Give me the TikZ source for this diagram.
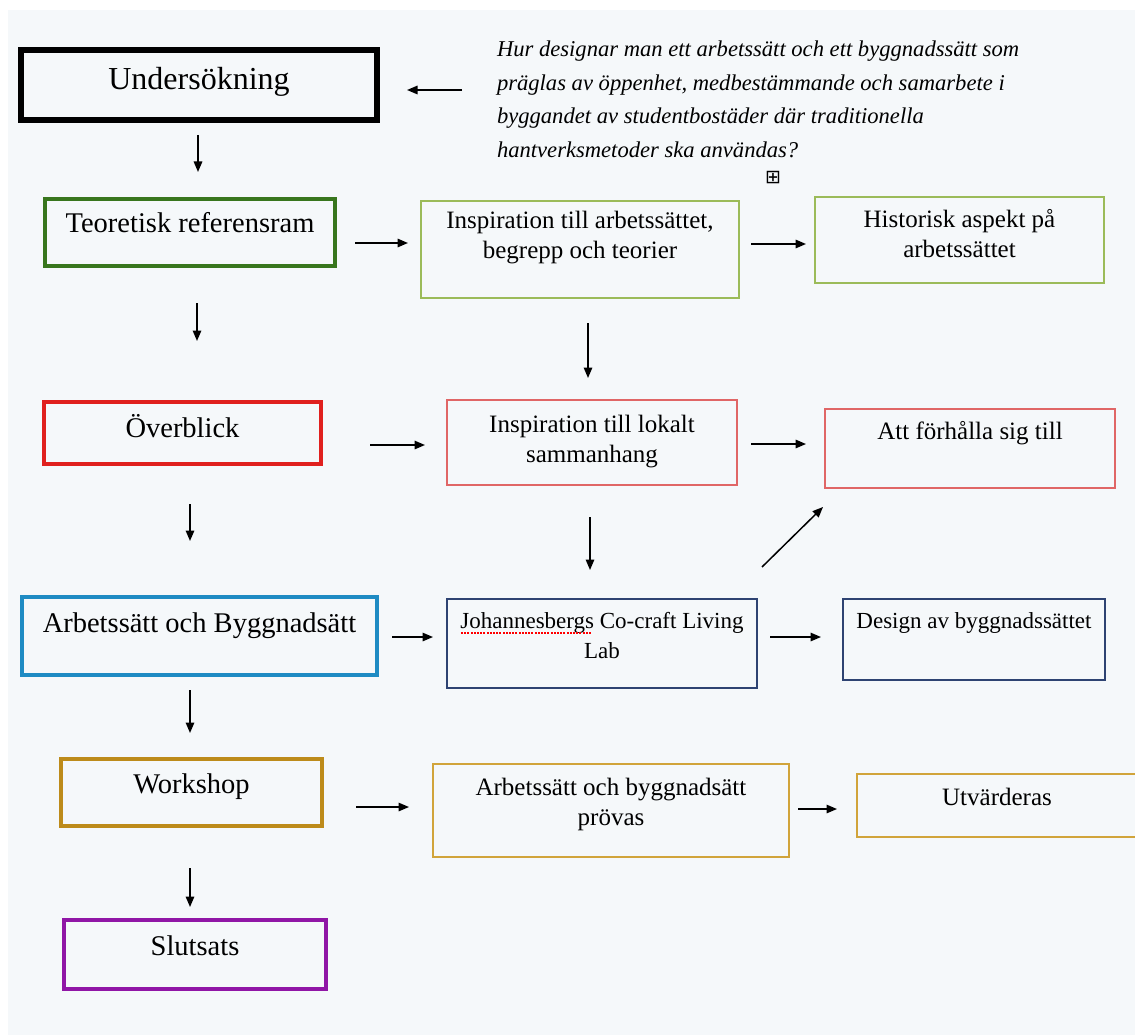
\documentclass[tikz,border=0pt]{standalone}
\usepackage{fontspec}
\setmainfont{Liberation Serif}
\newfontfamily\dejavu{DejaVu Sans}
\usetikzlibrary{calc,arrows.meta}
\definecolor{bgc}{HTML}{F5F8FA}
\definecolor{cgreen}{HTML}{38761D}
\definecolor{cred}{HTML}{E0201E}
\definecolor{cblue}{HTML}{1E8BC3}
\definecolor{cgold}{HTML}{BD8B1A}
\definecolor{cpurple}{HTML}{9016A6}
\definecolor{tgreen}{HTML}{9BBB59}
\definecolor{tred}{HTML}{E06666}
\definecolor{tnavy}{HTML}{2E4372}
\definecolor{tgold}{HTML}{D1A43A}
\newcommand{\mainfs}{\fontsize{28.5pt}{34pt}\selectfont}
\newcommand{\subfs}{\fontsize{25pt}{30pt}\selectfont}
\newcommand{\smallsubfs}{\fontsize{23pt}{30pt}\selectfont}
\newcommand{\boxtxt}[4]{\parbox[t][#2][t]{#1}{\centering\rule{0pt}{#3}#4\par}}
\newcommand{\spellmark}[1]{\setbox0=\hbox{#1}\rlap{\copy0}{\color{red}\raisebox{-5.5pt}{\leaders\hbox to 3.2pt{\hss\rule{2pt}{2pt}\hss}\hskip\wd0}}}
\tikzset{
  mainbox/.style={draw=#1, line width=4.5pt, inner sep=0pt, outer sep=0pt, anchor=north west, font=\mainfs},
  subbox/.style={draw=#1, line width=1.5pt, inner sep=0pt, outer sep=0pt, anchor=north west, font=\subfs},
  arr/.style={line width=1.5pt, -{Triangle[length=10.5pt,width=8.5pt]}}
}
\begin{document}
\begin{tikzpicture}[x=1pt,y=-1pt]
\useasboundingbox (0,0) rectangle (1135,1035);
\fill[white] (0,0) rectangle (1135,1035);
\fill[bgc] (8,10) rectangle (1135,1035);

% left column
\node[mainbox=black, line width=6pt, font=\fontsize{32pt}{36pt}\selectfont] (und) at (21,50) {\boxtxt{356pt}{70pt}{40pt}{Undersökning}};
\node[mainbox=cgreen] (teo) at (45,199) {\boxtxt{290pt}{67pt}{34pt}{Teoretisk referensram}};
\node[mainbox=cred] (ov) at (44,402) {\boxtxt{277pt}{62pt}{35pt}{Överblick}};
\node[mainbox=cblue] (arb) at (22,597) {\boxtxt{355pt}{78pt}{35pt}{Arbetssätt och Byggnadsätt}};
\node[mainbox=cgold] (work) at (61,759) {\boxtxt{261pt}{67pt}{34pt}{Workshop}};
\node[mainbox=cpurple] (slut) at (64,920) {\boxtxt{262pt}{69pt}{35pt}{Slutsats}};

% question
\node[anchor=north west, inner sep=0pt, outer sep=0pt, font=\itshape\fontsize{22.6pt}{33.5pt}\selectfont] (q) at (497,35)
  {\parbox[t]{620pt}{\raggedright\rule{0pt}{22pt}Hur designar man ett arbetssätt och ett byggnadssätt som\\
   präglas av öppenhet, medbestämmande och samarbete i\\
   byggandet av studentbostäder där traditionella\\
   hantverksmetoder ska användas?}};
\node[inner sep=0pt, font=\dejavu\fontsize{19pt}{19pt}\selectfont] (plus) at (773,178) {⊞};

% second and third columns
\node[subbox=tgreen] (insp1) at (421,201) {\boxtxt{318pt}{97pt}{28pt}{Inspiration till arbetssättet,\\begrepp och teorier}};
\node[subbox=tgreen] (hist) at (815,197) {\boxtxt{289pt}{86pt}{31pt}{Historisk aspekt på\\arbetssättet}};
\node[subbox=tred] (insp2) at (447,400) {\boxtxt{290pt}{85pt}{32pt}{Inspiration till lokalt\\sammanhang}};
\node[subbox=tred] (att) at (825,409) {\boxtxt{290pt}{79pt}{30pt}{Att förhålla sig till}};
\node[subbox=tnavy, font=\smallsubfs] (joh) at (447,599) {\boxtxt{310pt}{89pt}{29pt}{\spellmark{Johannesbergs} Co-craft Living\\Lab}};
\node[subbox=tnavy, font=\smallsubfs] (des) at (843,599) {\boxtxt{262pt}{81pt}{29pt}{Design av byggnadssättet}};
\node[subbox=tgold] (prov) at (433,764) {\boxtxt{356pt}{93pt}{31pt}{Arbetssätt och byggnadsätt\\prövas}};
\node[subbox=tgold] (utv) at (857,774) {\boxtxt{280pt}{63pt}{31pt}{Utvärderas}};

% connectors
\draw[arr] ($(q.north west)+(-35,55)$) -- ($(und.east)+(30,5)$);
\draw[arr] ($(und.south)+(-1,15)$) -- ($(teo.north)+(8,-27)$);
\draw[arr] ($(teo.east)+(20,10.5)$) -- ($(insp1.west)+(-13,-6.5)$);
\draw[arr] ($(insp1.east)+(12,-5.5)$) -- ($(hist.west)+(-9,4)$);
\draw[arr] ($(teo.south)+(7,37)$) -- ($(ov.north)+(14.5,-61)$);
\draw[arr] ($(insp1.south)+(8,25)$) -- ($(insp2.north)+(-4,-22)$);
\draw[arr] ($(ov.east)+(49,12)$) -- ($(insp2.west)+(-22,2.5)$);
\draw[arr] ($(insp2.east)+(14,1.5)$) -- ($(att.west)+(-19,-4.5)$);
\draw[arr] ($(ov.south)+(7.5,40)$) -- ($(arb.north)+(-9.5,-56)$);
\draw[arr] ($(insp2.south)+(-2,32)$) -- ($(joh.north)+(-12,-29)$);
\draw[arr] ($(joh.north east)+(5,-32)$) -- ($(att.south west)+(-2,19)$);
\draw[arr] ($(arb.east)+(15,1)$) -- ($(joh.west)+(-14,-6.5)$);
\draw[arr] ($(joh.east)+(13,-6.5)$) -- ($(des.west)+(-22,-2.5)$);
\draw[arr] ($(arb.south)+(-9.5,15)$) -- ($(work.north)+(-1.5,-26)$);
\draw[arr] ($(work.east)+(34,14.5)$) -- ($(prov.west)+(-24,-3.5)$);
\draw[arr] ($(prov.east)+(9,-1.5)$) -- ($(utv.west)+(-20,3.5)$);
\draw[arr] ($(work.south)+(-1.5,42)$) -- ($(slut.north)+(-5,-13)$);
\end{tikzpicture}
\end{document}
